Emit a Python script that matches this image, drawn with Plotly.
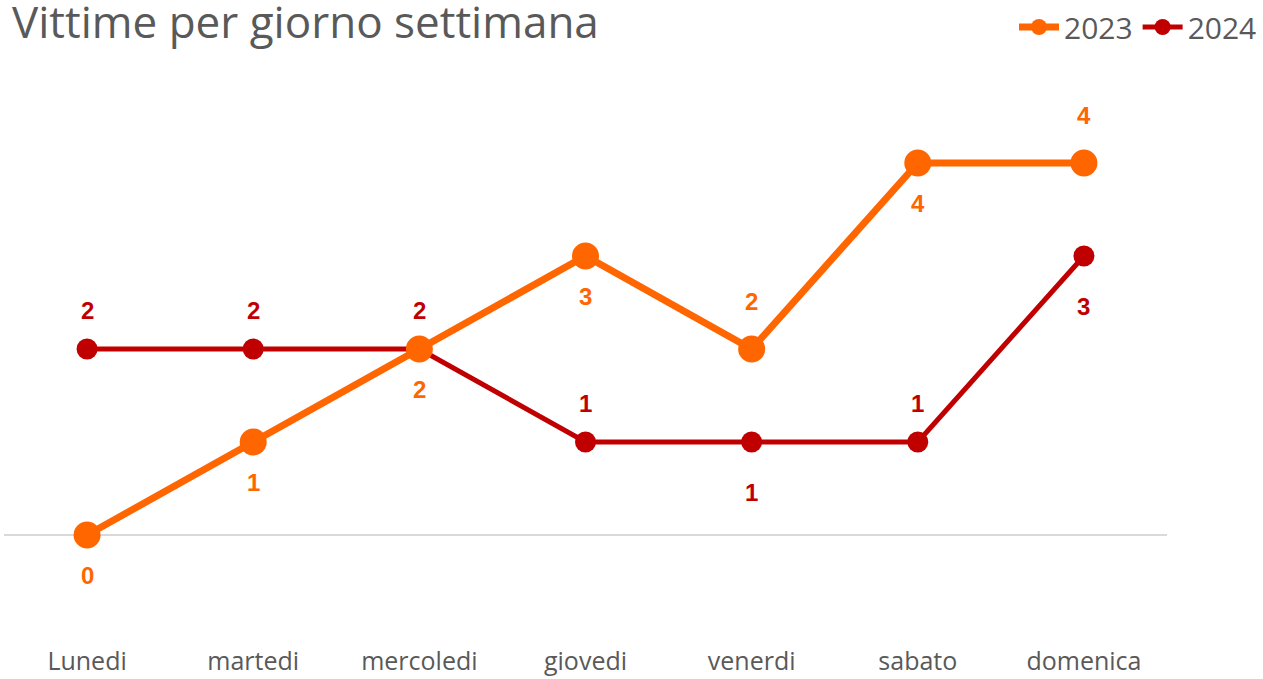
import plotly.graph_objects as go

days = ["Lunedi", "martedi", "mercoledi", "giovedi", "venerdi", "sabato", "domenica"]
v2023 = [0, 1, 2, 3, 2, 4, 4]
v2024 = [2, 2, 2, 1, 1, 1, 3]
pos2023 = [-1, -1, -1, -1, 1, -1, 1]
pos2024 = [1, 1, 1, 1, -1, 1, -1]

C23 = "#FF6600"
C24 = "#C00000"
FONT = "Open Sans"

fig = go.Figure()
fig.add_trace(go.Scatter(x=days, y=v2024, name="2024", mode="lines+markers",
                         line=dict(color=C24, width=5), marker=dict(size=21, color=C24)))
fig.add_trace(go.Scatter(x=days, y=v2023, name="2023", mode="lines+markers",
                         line=dict(color=C23, width=7), marker=dict(size=27, color=C23)))

anns = []
for d, v, p in zip(days, v2023, pos2023):
    anns.append(dict(x=d, y=v, text=str(v), showarrow=False, yshift=48 if p > 0 else -40,
                     font=dict(family="Liberation Sans", size=24, color=C23, weight="bold")))
for d, v, p in zip(days, v2024, pos2024):
    anns.append(dict(x=d, y=v, text=str(v), showarrow=False, yshift=39 if p > 0 else -50,
                     font=dict(family="Liberation Sans", size=24, color=C24, weight="bold")))

fig.update_layout(
    width=1263, height=679,
    paper_bgcolor="white", plot_bgcolor="white",
    margin=dict(l=4, r=96, t=70, b=51, autoexpand=False),
    title=dict(text="Vittime per giorno settimana", x=0.0095, xanchor="left",
               yref="container", y=1 - 23 / 679, yanchor="middle",
               font=dict(family=FONT, size=44, color="#595959")),
    showlegend=True,
    legend=dict(orientation="h", xref="container", x=1 - 1 / 1263, xanchor="right",
                yref="container", y=1 - 27 / 679, yanchor="middle",
                traceorder="reversed", font=dict(family=FONT, size=30, color="#595959"),
                itemwidth=40, bgcolor="rgba(0,0,0,0)"),
    xaxis=dict(range=[-0.5, 6.5], showgrid=False, showline=False, zeroline=False, ticks="",
               automargin=False,
               tickfont=dict(family=FONT, size=25, color="#595959"), ticklabelstandoff=16, fixedrange=True),
    yaxis=dict(range=[-1, 5], showgrid=False, showticklabels=False, zeroline=True, automargin=False,
               zerolinecolor="#D9D9D9", zerolinewidth=2, fixedrange=True),
    annotations=anns,
)
fig.write_html("out.html", config={"displayModeBar": False},
               post_script="document.body.style.margin='0px';document.body.style.overflow='hidden';")
